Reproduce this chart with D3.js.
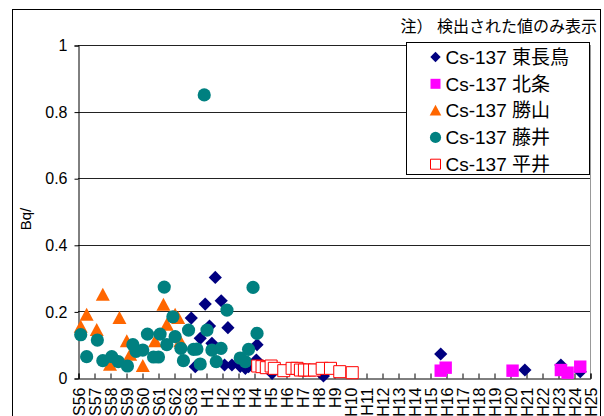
<!DOCTYPE html>
<html>
<head>
<meta charset="utf-8">
<script src="https://cdn.jsdelivr.net/npm/d3@7"></script>
<style>
  html, body { margin: 0; padding: 0; background: #fff; }
  svg { display: block; }
  text { font-family: "Liberation Sans", Arial, "Noto Sans CJK JP", sans-serif; fill: #000; }
</style>
</head>
<body>
<svg id="chart" width="604" height="416"></svg>
<script>
// Fiscal-year tick labels (Showa 56 .. Heisei 25)
const yearLabels = ["S56","S57","S58","S59","S60","S61","S62","S63",
  "H1","H2","H3","H4","H5","H6","H7","H8","H9","H10","H11","H12","H13",
  "H14","H15","H16","H17","H18","H19","H20","H21","H22","H23","H24","H25"];
const firstYear = 1981;
const yTicks = [0, 0.2, 0.4, 0.6, 0.8, 1];

// Cs-137 measurements per site: [decimal year, value]
const higashiNagatori = [
  [1988.08, 0.18], [1988.33, 0.034], [1988.64, 0.119], [1988.95, 0.222],
  [1989.22, 0.156], [1989.37, 0.104], [1989.58, 0.302], [1989.95, 0.232],
  [1990.16, 0.039], [1990.37, 0.151], [1990.62, 0.039], [1991.14, 0.035],
  [1991.46, 0.029], [1991.66, 0.034], [1992.19, 0.1], [1992.15, 0.054],
  [1993.13, 0.014], [1996.34, 0.006], [2003.67, 0.072], [2008.93, 0.024],
  [2011.18, 0.039], [2012.39, 0.019]
];
const hojo = [
  [2003.67, 0.022], [2003.98, 0.031], [2008.16, 0.022],
  [2011.18, 0.024], [2011.6, 0.016], [2012.39, 0.034]
];
const katsuyama = [
  [1981.17, 0.154], [1981.54, 0.19], [1982.17, 0.144], [1982.55, 0.25],
  [1983.0, 0.04], [1983.59, 0.18], [1984.05, 0.11], [1984.26, 0.07],
  [1985.05, 0.036], [1985.82, 0.11], [1986.34, 0.22], [1986.55, 0.16],
  [1987.07, 0.19], [1987.26, 0.18], [1987.39, 0.11]
];
const fujii = [
  [1981.17, 0.13], [1981.54, 0.064], [1982.21, 0.114], [1982.55, 0.052],
  [1983.11, 0.064], [1983.52, 0.049], [1984.09, 0.036], [1984.43, 0.1],
  [1984.63, 0.08], [1985.05, 0.084], [1985.34, 0.132], [1985.72, 0.063],
  [1986.03, 0.063], [1986.13, 0.132], [1986.39, 0.273], [1986.55, 0.1],
  [1986.93, 0.184], [1987.07, 0.124], [1987.43, 0.089], [1987.59, 0.052],
  [1987.91, 0.144], [1988.22, 0.086], [1988.43, 0.087], [1988.64, 0.042],
  [1988.89, 0.85], [1989.06, 0.144], [1989.37, 0.084], [1989.64, 0.049],
  [1989.94, 0.089], [1990.31, 0.204], [1991.14, 0.06], [1991.46, 0.049],
  [1991.66, 0.086], [1991.94, 0.272], [1992.19, 0.134]
];
const hirai = [
  [1992.23, 0.036], [1992.5, 0.034], [1992.77, 0.031], [1993.07, 0.036],
  [1993.27, 0.029], [1993.86, 0.022], [1994.38, 0.029], [1994.69, 0.029],
  [1994.9, 0.024], [1995.15, 0.024], [1995.48, 0.024], [1995.78, 0.024],
  [1996.26, 0.029], [1996.78, 0.029], [1997.36, 0.019], [1998.14, 0.016]
];

const series = [
  { name: "Cs-137 東長鳥", data: higashiNagatori, shape: "diamond", fill: "#000080", stroke: "none" },
  { name: "Cs-137 北条",   data: hojo,            shape: "square",  fill: "#ff00ff", stroke: "none" },
  { name: "Cs-137 勝山",   data: katsuyama,       shape: "triangle",fill: "#ff6600", stroke: "none" },
  { name: "Cs-137 藤井",   data: fujii,           shape: "circle",  fill: "#008080", stroke: "none" },
  { name: "Cs-137 平井",   data: hirai,           shape: "hollow",  fill: "#ffffff", stroke: "#ff0000" }
];

// marker outline paths centred on the origin
function markerPath(shape, r) {
  switch (shape) {
    case "diamond": return `M0,${-r}L${r},0L0,${r}L${-r},0Z`;
    case "square":
    case "hollow":  return `M${-r},${-r}H${r}V${r}H${-r}Z`;
    case "triangle":return `M0,${-r}L${r},${r * 0.85}H${-r}Z`;
    default: {
      return `M${r},0A${r},${r} 0 1 1 ${-r},0A${r},${r} 0 1 1 ${r},0Z`;
    }
  }
}
const markerSize = { diamond: 6.6, square: 6.2, triangle: 7, circle: 6.6, hollow: 6 };
const legendSize = { diamond: 5.2, square: 5, triangle: 5.8, circle: 5.6, hollow: 5 };

const svg = d3.select("#chart");
const plot = { left: 78, right: 590, top: 45, bottom: 378 };

const x = d3.scaleLinear()
  .domain([firstYear, firstYear + yearLabels.length - 1])
  .range([plot.left, plot.right]);
const y = d3.scaleLinear().domain([0, 1]).range([plot.bottom, plot.top]);

// chart frame
svg.append("rect")
  .attr("x", 12.5).attr("y", 9.5).attr("width", 588).attr("height", 420)
  .attr("fill", "none").attr("stroke", "#000");

// plot area right border
svg.append("line")
  .attr("x1", plot.right + 0.5).attr("x2", plot.right + 0.5)
  .attr("y1", plot.top).attr("y2", plot.bottom)
  .attr("stroke", "#999");

// horizontal gridlines
svg.append("g").selectAll("line")
  .data(yTicks.filter(d => d > 0))
  .join("line")
  .attr("x1", plot.left).attr("x2", plot.right)
  .attr("y1", d => Math.round(y(d)) + 0.5).attr("y2", d => Math.round(y(d)) + 0.5)
  .attr("stroke", "#222").attr("stroke-width", 1);

// y axis
const yAxis = svg.append("g")
  .attr("transform", `translate(${plot.left + 0.5},0.5)`)
  .call(d3.axisLeft(y).tickValues(yTicks).tickSize(4).tickPadding(7)
    .tickFormat(d => d3.format("~g")(d)));
yAxis.select(".domain").attr("stroke", "#000");
yAxis.selectAll(".tick line").attr("stroke", "#000");
yAxis.selectAll("text").attr("font-size", 16)
  .attr("font-family", "Liberation Sans, Arial, sans-serif");

// x axis: ticks inside the plot, labels rotated
const yearTicks = yearLabels.map((_, i) => firstYear + i);
const xAxis = svg.append("g")
  .attr("transform", `translate(0.5,${plot.bottom + 0.5})`)
  .call(d3.axisBottom(x).tickValues(yearTicks).tickSize(-5)
    .tickFormat((d, i) => yearLabels[i]));
xAxis.select(".domain").attr("stroke", "#000");
xAxis.selectAll(".tick line").attr("stroke", "#000");
xAxis.selectAll("text")
  .attr("font-size", 16)
  .attr("font-family", "Liberation Sans, Arial, sans-serif")
  .attr("text-anchor", "end")
  .attr("transform", "rotate(-90)")
  .attr("x", -9).attr("y", 0).attr("dy", "0.35em");

// y axis title
svg.append("text")
  .attr("transform", `translate(31,219) rotate(-90)`)
  .attr("text-anchor", "middle")
  .attr("font-size", 15)
  .text("Bq/");

// note
svg.append("text")
  .attr("x", 597).attr("y", 32)
  .attr("text-anchor", "end")
  .attr("font-size", 16)
  .attr("font-family", "Noto Sans CJK JP, sans-serif")
  .text("注） 検出された値のみ表示");

// markers
const marks = svg.append("g");
series.forEach(s => {
  marks.append("g").selectAll("path")
    .data(s.data)
    .join("path")
    .attr("transform", d => `translate(${x(d[0])},${y(d[1])})`)
    .attr("d", markerPath(s.shape, markerSize[s.shape]))
    .attr("fill", s.fill)
    .attr("stroke", s.stroke)
    .attr("stroke-width", s.shape === "hollow" ? 1 : 0);
});

// legend
const legend = svg.append("g");
legend.append("rect")
  .attr("x", 406.5).attr("y", 42.5).attr("width", 183).attr("height", 132)
  .attr("fill", "#fff").attr("stroke", "#000");
const rows = legend.selectAll("g.row")
  .data(series)
  .join("g")
  .attr("class", "row")
  .attr("transform", (d, i) => `translate(435.5,${57 + i * 26.8})`);
rows.append("path")
  .attr("d", d => markerPath(d.shape, legendSize[d.shape]))
  .attr("fill", d => d.fill)
  .attr("stroke", d => d.stroke)
  .attr("stroke-width", d => d.shape === "hollow" ? 1 : 0);
rows.append("text")
  .attr("x", 10).attr("dy", "0.36em")
  .attr("font-size", 19)
  .text(d => d.name);
</script>
</body>
</html>
